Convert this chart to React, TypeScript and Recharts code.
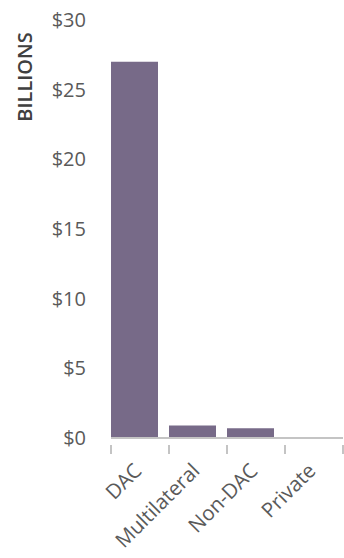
import { BarChart, Bar, XAxis, YAxis, Rectangle } from "recharts"

// Official flows by donor type, in billions of dollars
const categories = ["DAC", "Multilateral", "Non-DAC", "Private"]
const amounts = [27, 0.9, 0.7, 0]
const yTicks = [0, 5, 10, 15, 20, 25, 30]

const data = categories.map((name, i) => ({ name, value: amounts[i] }))

const WIDTH = 344
const HEIGHT = 558
const MARGIN = { top: 20, right: 1, left: 0, bottom: 0 }
const Y_AXIS_WIDTH = 111
const BAND = (WIDTH - MARGIN.left - MARGIN.right - Y_AXIS_WIDTH) / categories.length
const BAR_GAP = 5.5

const FONT = "'Open Sans', Lato, sans-serif"
const AXIS_GREY = "#c4c4c4"
const TEXT_GREY = "#5a5a5a"
const BAR_COLOR = "#776a88"

// category tick: tick marks sit on the band edges, label is slanted
function CategoryTick(props: any) {
  const { x, y, payload, index } = props
  const left = x - BAND / 2
  const right = x + BAND / 2
  const lx = x + 3
  const ly = y + 26
  return (
    <g>
      <line x1={left} y1={y - 1} x2={left} y2={y + 8} stroke={AXIS_GREY} strokeWidth={2} />
      {index === categories.length - 1 && (
        <line x1={right} y1={y - 1} x2={right} y2={y + 8} stroke={AXIS_GREY} strokeWidth={2} />
      )}
      <text
        x={lx}
        y={ly}
        textAnchor="end"
        transform={`rotate(-45, ${lx}, ${ly})`}
        fill={TEXT_GREY}
        fontSize={20.5}
        fontFamily={FONT}
      >
        {payload.value}
      </text>
    </g>
  )
}

function UnitLabel(props: any) {
  const { viewBox } = props
  const cx = viewBox.x + 24
  const cy = viewBox.y + 57
  return (
    <text
      x={cx}
      y={cy}
      textAnchor="middle"
      dominantBaseline="central"
      transform={`rotate(-90, ${cx}, ${cy})`}
      fill="#404040"
      fontSize={20}
      fontWeight={600}
      fontFamily={FONT}
    >
      BILLIONS
    </text>
  )
}

export default function App() {
  return (
    <div style={{ position: "absolute", left: 0, top: 0, width: WIDTH, height: HEIGHT, background: "#fff" }}>
      <BarChart width={WIDTH} height={HEIGHT} data={data} margin={MARGIN} barCategoryGap={BAR_GAP}>
        <XAxis
          dataKey="name"
          height={120}
          axisLine={{ stroke: AXIS_GREY, strokeWidth: 2 }}
          tickLine={false}
          tick={<CategoryTick />}
          interval={0}
        />
        <YAxis
          width={Y_AXIS_WIDTH}
          domain={[0, 30]}
          ticks={yTicks}
          axisLine={false}
          tickLine={false}
          tickSize={0}
          tickMargin={25}
          tickFormatter={(v: number) => `$${v}`}
          tick={{ fill: TEXT_GREY, fontSize: 20, fontFamily: FONT }}
          label={<UnitLabel />}
        />
        <Bar
          dataKey="value"
          fill={BAR_COLOR}
          isAnimationActive={false}
          shape={(p: any) => <Rectangle {...p} x={p.x - BAR_GAP} />}
        />
      </BarChart>
    </div>
  )
}
